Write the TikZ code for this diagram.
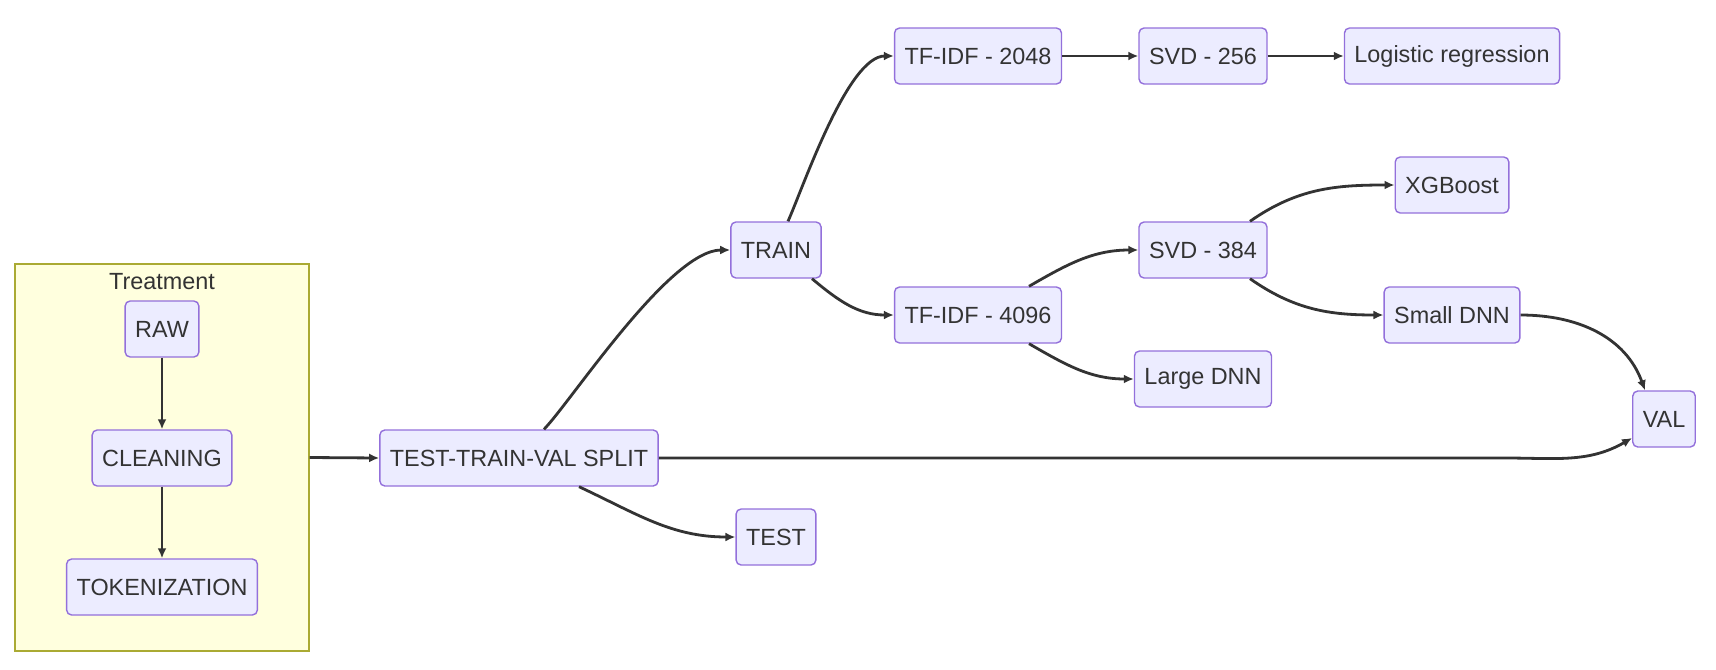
\documentclass[tikz,border=0pt]{standalone}
\usepackage{fontspec}
\setmainfont{Liberation Sans}
\usetikzlibrary{arrows.meta}
\definecolor{boxfill}{HTML}{ECECFF}
\definecolor{boxline}{HTML}{9370DB}
\definecolor{grpfill}{HTML}{FFFFDE}
\definecolor{grpline}{HTML}{AAAA33}
\definecolor{ink}{HTML}{333333}

\begin{document}
\begin{tikzpicture}[x=.5pt,y=-.5pt,
  stage/.style={draw=boxline,fill=boxfill,line width=.7pt,rounded corners=2.5pt,
    minimum height=28pt,inner xsep=5pt,font=\fontsize{11.7}{13}\selectfont,text=ink},
  flow/.style={draw=ink,line width=1.4pt,-{Latex[length=5pt,width=4.5pt]}}]
\useasboundingbox (0,0) rectangle (1716,669);
\node[draw=grpline,fill=grpfill,line width=.7pt,minimum width=147pt,minimum height=193.5pt]
  (treat) at (162,457.5) {};
\node[font=\fontsize{11.7}{13}\selectfont,text=ink] (treatlbl) at (162,282) {Treatment};
\foreach \n/\lbl/\x/\y in {raw/RAW/162/329,clean/CLEANING/162/458,tok/TOKENIZATION/162/587,
  split/TEST-TRAIN-VAL SPLIT/519/458,train/TRAIN/776/250,test/TEST/776/537,
  tfa/TF-IDF - 2048/978/56,tfb/TF-IDF - 4096/978/315,svda/SVD - 256/1203/56,
  svdb/SVD - 384/1203/250,large/Large DNN/1203/379,logreg/Logistic regression/1452/56,
  xgb/XGBoost/1452/185,small/Small DNN/1452/315,val/VAL/1664/419} {
  \node[stage] (\n) at (\x,\y) {\lbl};
}
\coordinate (valbend) at (1505,458);
\foreach \a/\b in {raw/clean,clean/tok,tfa/svda,svda/logreg}
  \draw[flow] (\a) -- (\b);
\draw[flow] (treat.east) -- (split.west);
\draw[flow] ([xshift=12.5pt]split.north) to[out=46,in=180,out looseness=.4,in looseness=.6] (train.west);
\draw[flow] ([xshift=30pt]split.south) to[out=-25,in=180] (test.west);
\draw[flow] (split.east) -- (valbend) to[out=0,in=210] ([yshift=-9.5pt]val.west);
\draw[flow] ([xshift=6pt]train.north) to[out=66,in=180,out looseness=.5,in looseness=.6] (tfa.west);
\draw[flow] ([xshift=18pt]train.south) to[out=-40,in=180] (tfb.west);
\draw[flow] ([xshift=25.5pt]tfb.north) to[out=30,in=180] (svdb.west);
\draw[flow] ([xshift=25.5pt]tfb.south) to[out=-30,in=180] (large.west);
\draw[flow] ([xshift=23.5pt]svdb.north) to[out=35,in=180] (xgb.west);
\draw[flow] ([xshift=23.5pt]svdb.south) to[out=-35,in=180] (small.west);
\draw[flow] (small.east) to[out=0,in=110] ([xshift=-9.5pt]val.north);
\end{tikzpicture}
\end{document}
